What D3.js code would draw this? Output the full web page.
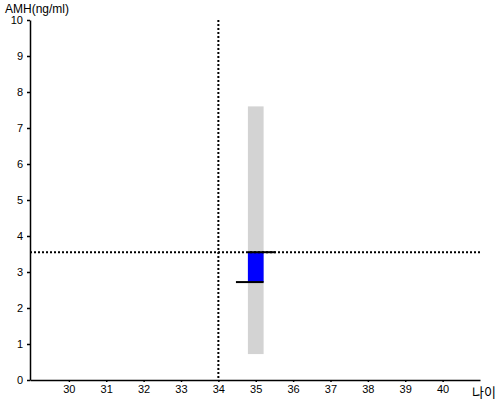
<!DOCTYPE html>
<html>
<head>
<meta charset="utf-8">
<script src="https://cdn.jsdelivr.net/npm/d3@7"></script>
<style>
  body { margin: 0; background: #fff; }
  text { font-family: "Liberation Sans", Arial, sans-serif; }
</style>
</head>
<body>
<div id="chart"></div>
<script>
const xTicks = [30, 31, 32, 33, 34, 35, 36, 37, 38, 39, 40];
const yTicks = [0, 1, 2, 3, 4, 5, 6, 7, 8, 9, 10];

// reference lines (age, AMH)
const refAge = 34;
const refAmh = 3.55;

// range band and box per age
const ages = [35];
const rangeLow = [0.72];
const rangeHigh = [7.6];
const boxLow = [2.72];
const boxHigh = [3.55];

const width = 500;
const height = 400;

const svg = d3.select("#chart")
    .append("svg")
    .attr("width", width)
    .attr("height", height);

const x = d3.scaleLinear().domain([28.96, 41]).range([30, 480]);
const y = d3.scaleLinear().domain([0, 10]).range([380, 20]);

const half = 0.21;   // half width of bar in age units
const ext = 0.32;    // extra length of whisker line

const rows = ages.map((a, i) => ({
    age: a, lo: rangeLow[i], hi: rangeHigh[i], bLo: boxLow[i], bHi: boxHigh[i]
}));

// gray range
svg.append("g").selectAll("rect")
    .data(rows)
    .enter()
    .append("rect")
    .attr("x", d => x(d.age - half))
    .attr("width", d => x(d.age + half) - x(d.age - half))
    .attr("y", d => y(d.hi))
    .attr("height", d => y(d.lo) - y(d.hi))
    .attr("fill", "#d3d3d3");

// blue box
svg.append("g").selectAll("rect")
    .data(rows)
    .enter()
    .append("rect")
    .attr("x", d => x(d.age - half))
    .attr("width", d => x(d.age + half) - x(d.age - half))
    .attr("y", d => y(d.bHi))
    .attr("height", d => y(d.bLo) - y(d.bHi))
    .attr("fill", "#0000ff");

// dotted reference lines
svg.append("line")
    .attr("x1", x(refAge)).attr("x2", x(refAge))
    .attr("y1", y(10)).attr("y2", y(0))
    .attr("stroke", "#000").attr("stroke-width", 2)
    .attr("stroke-dasharray", "2,2");

svg.append("line")
    .attr("x1", x.range()[0]).attr("x2", x.range()[1])
    .attr("y1", y(refAmh)).attr("y2", y(refAmh))
    .attr("stroke", "#000").attr("stroke-width", 2)
    .attr("stroke-dasharray", "2,2");

// whisker lines
const wg = svg.append("g");
wg.selectAll(".top")
    .data(rows)
    .enter()
    .append("line")
    .attr("x1", d => x(d.age - half))
    .attr("x2", d => x(d.age + half + ext))
    .attr("y1", d => y(d.bHi))
    .attr("y2", d => y(d.bHi))
    .attr("stroke", "#000").attr("stroke-width", 2);
wg.selectAll(".bottom")
    .data(rows)
    .enter()
    .append("line")
    .attr("x1", d => x(d.age - half - ext))
    .attr("x2", d => x(d.age + half))
    .attr("y1", d => y(d.bLo))
    .attr("y2", d => y(d.bLo))
    .attr("stroke", "#000").attr("stroke-width", 2);

// axes
const xAxis = svg.append("g")
    .attr("transform", `translate(0, ${y(0)})`)
    .call(d3.axisBottom(x).tickValues(xTicks).tickSize(2).tickSizeOuter(0).tickPadding(3));
const yAxis = svg.append("g")
    .attr("transform", `translate(${x.range()[0]}, 0)`)
    .call(d3.axisLeft(y).tickValues(yTicks).tickSize(3).tickSizeOuter(0).tickPadding(4));

[xAxis, yAxis].forEach(g => {
    g.select(".domain").attr("stroke-width", 1.5);
    g.selectAll(".tick line").attr("stroke-width", 1.5);
    g.selectAll("text")
        .style("font-family", "'Liberation Sans', Arial, sans-serif")
        .style("font-size", "11px")
        .attr("fill", "#000");
});

// axis titles
svg.append("text")
    .attr("x", 5)
    .attr("y", 13)
    .style("font-size", "12px")
    .text("AMH(ng/ml)");

svg.append("text")
    .attr("x", 472)
    .attr("y", 397)
    .style("font-family", "'Noto Sans CJK KR', sans-serif")
    .style("font-size", "13px")
    .text("나이");
</script>
</body>
</html>
